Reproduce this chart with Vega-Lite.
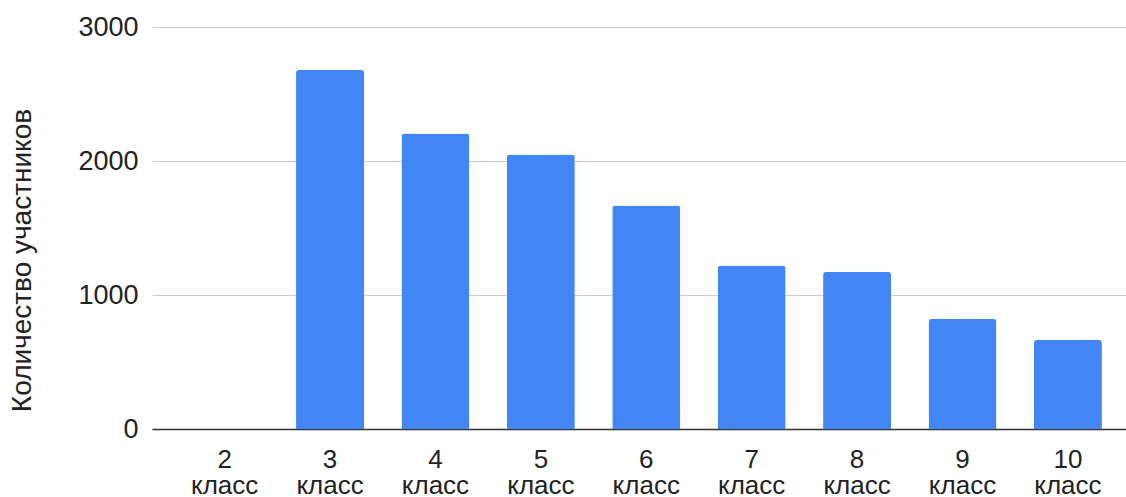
{
  "$schema": "https://vega.github.io/schema/vega-lite/v6.json",
  "description": "Number of participants by grade",
  "autosize": {"type": "none"},
  "padding": {"left": 152, "top": 27, "right": 0, "bottom": 68},
  "width": 974,
  "height": 402,
  "background": "white",
  "config": {
    "view": {"stroke": null},
    "font": "Liberation Sans"
  },
  "data": {
    "values": [
      {"grade": "2 класс", "count": 0},
      {"grade": "3 класс", "count": 2680},
      {"grade": "4 класс", "count": 2205},
      {"grade": "5 класс", "count": 2048},
      {"grade": "6 класс", "count": 1668},
      {"grade": "7 класс", "count": 1220},
      {"grade": "8 класс", "count": 1172},
      {"grade": "9 класс", "count": 821},
      {"grade": "10 класс", "count": 664}
    ]
  },
  "mark": {"type": "bar", "color": "#4285F4", "cornerRadiusTopLeft": 3, "cornerRadiusTopRight": 3},
  "encoding": {
    "x": {
      "field": "grade",
      "type": "nominal",
      "sort": null,
      "scale": {"paddingInner": 0.355, "paddingOuter": 0.2975, "align": 0.616},
      "axis": {
        "title": null,
        "labelAngle": 0,
        "labelExpr": "split(datum.label, ' ')",
        "labelFontSize": 26,
        "labelColor": "#222",
        "labelLineHeight": 26,
        "labelPadding": 17,
        "labelBaseline": "top",
        "ticks": false,
        "domainColor": "#333",
        "domainWidth": 1.5
      }
    },
    "y": {
      "field": "count",
      "type": "quantitative",
      "scale": {"domain": [0, 3000]},
      "axis": {
        "title": "Количество участников",
        "titleFontSize": 28,
        "titleFontWeight": "normal",
        "titleColor": "#222",
        "titleX": -130,
        "titleY": 233,
        "titleAngle": 270,
        "titleAlign": "center",
        "titleBaseline": "middle",
        "values": [0, 1000, 2000, 3000],
        "format": "d",
        "labelFontSize": 27,
        "labelColor": "#222",
        "labelPadding": 14,
        "ticks": false,
        "domain": false,
        "gridColor": "#cccccc",
        "gridWidth": 1.2
      }
    }
  }
}
